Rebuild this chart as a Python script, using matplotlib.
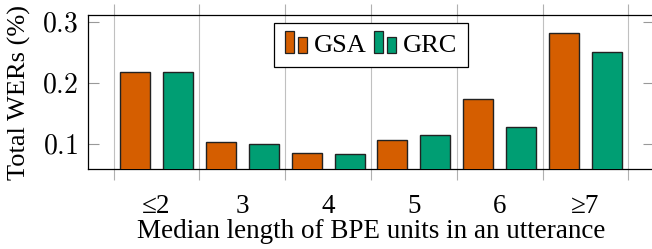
import matplotlib
matplotlib.use("Agg")
import matplotlib.pyplot as plt
from matplotlib.patches import Rectangle
from matplotlib.legend_handler import HandlerBase
import numpy as np

categories = ["≤2", "3", "4", "5", "6", "≥7"]
gsa = [0.218, 0.103, 0.086, 0.106, 0.173, 0.281]
grc = [0.2175, 0.100, 0.083, 0.115, 0.127, 0.250]
yticks = [0.1, 0.2, 0.3]
ytick_labels = ["$0.1$", "$0.2$", "$0.3$"]
series_names = ["GSA", "GRC"]
colors = ["#D55E00", "#009E73"]

plt.rcParams["font.family"] = ["Liberation Serif", "DejaVu Serif"]
plt.rcParams["mathtext.fontset"] = "cm"
FS = 19
TFS = 20

fig = plt.figure(figsize=(6.52, 2.49), dpi=100)
ax = fig.add_axes([88/652, (249-169)/249, (654-88)/652, (169-15)/249])

x = np.arange(len(categories))
w = 0.35
b1 = ax.bar(x - 0.25, gsa, w, color=colors[0], edgecolor="#222222", linewidth=1.0, zorder=3, label=series_names[0])
b2 = ax.bar(x + 0.25, grc, w, color=colors[1], edgecolor="#222222", linewidth=1.0, zorder=3, label=series_names[1])

ax.set_xlim(-0.8, 5.8)
ax.set_ylim(0.059, 0.311)
ax.set_xticks(x)
ax.set_xticklabels(categories, fontsize=FS + 0.5)
ax.set_xticks(np.arange(-0.5, 6, 1.0), minor=True)
ax.tick_params(axis="x", which="major", length=0, pad=18)
ax.tick_params(axis="x", which="minor", direction="out", length=8, width=0.8,
               color="#b0b0b0", top=True, bottom=True)
ax.grid(axis="x", which="minor", color="#c0c0c0", linewidth=0.8, zorder=0)
ax.set_yticks(yticks)
ax.set_yticklabels(ytick_labels, fontsize=TFS)
ax.tick_params(axis="y", which="major", direction="in", length=8, width=0.8,
               color="#999999", left=True, right=True, pad=7)
for s in ax.spines.values():
    s.set_linewidth(0.9)
    s.set_color("black")

ax.set_xlabel("Median length of BPE units in an utterance", fontsize=19.5, labelpad=0)
ax.set_ylabel("Total WERs (%)", fontsize=FS, labelpad=8)


class TwoBarHandler(HandlerBase):
    def create_artists(self, legend, orig_handle, xdescent, ydescent, width, height, fontsize, trans):
        fc = orig_handle.patches[0].get_facecolor()
        bw = 6.7
        gap = 2.9
        r1 = Rectangle((-xdescent, -ydescent - 1), bw, 15.6, facecolor=fc, edgecolor="#222222", lw=0.9, transform=trans)
        r2 = Rectangle((-xdescent + bw + gap, -ydescent - 1), bw, 11.5, facecolor=fc, edgecolor="#222222", lw=0.9, transform=trans)
        return [r1, r2]


leg = ax.legend([b1, b2], series_names, handler_map={type(b1): TwoBarHandler()},
                loc="upper center", bbox_to_anchor=(0.5, 0.95), ncol=2, fontsize=FS,
                frameon=True, fancybox=False, edgecolor="black", framealpha=1,
                borderaxespad=0, handlelength=0.87, handletextpad=0.24,
                columnspacing=0.27, borderpad=0.4)
leg.get_frame().set_linewidth(0.9)
leg.set_zorder(5)

fig.savefig("out.png", dpi=100)
